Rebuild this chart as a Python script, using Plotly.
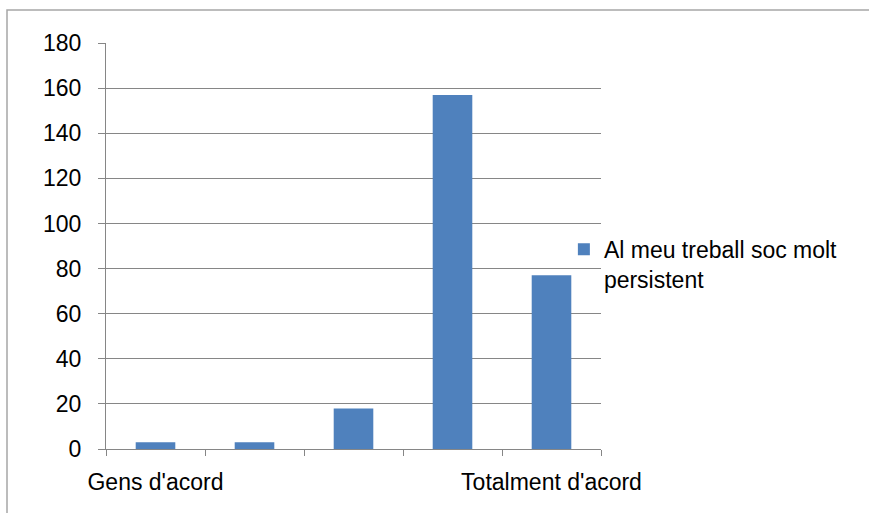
import plotly.graph_objects as go

categories = ["Gens d'acord", " ", "  ", "   ", "Totalment d'acord"]
values = [3, 3, 18, 157, 77]
series_name = "Al meu treball soc molt<br>persistent"
y_ticks = [0, 20, 40, 60, 80, 100, 120, 140, 160, 180]

FONT = "Liberation Sans, Arial, sans-serif"
BAR = "#4F81BD"
fig = go.Figure()
fig.add_trace(go.Bar(x=categories, y=values, name=series_name,
                     marker=dict(color=BAR, line=dict(width=0)),
                     showlegend=True))

fig.update_layout(
    width=869, height=513,
    margin=dict(l=106, r=268, t=43, b=64, autoexpand=False),
    paper_bgcolor="white", plot_bgcolor="white",
    bargap=0.6,
    font=dict(family=FONT, size=23, color="#000000"),
    showlegend=True,
    legend=dict(x=0.925, y=0.455, xanchor="left", yanchor="middle",
                bgcolor="rgba(0,0,0,0)", font=dict(size=23), valign="top",
                itemwidth=30, tracegroupgap=0),
    xaxis=dict(type="category", showline=True, linecolor="#868686", linewidth=1,
               ticks="outside", tickson="boundaries", ticklen=6, tickcolor="#868686",
               showgrid=False, tickfont=dict(size=23), tickangle=0, automargin=False,
               ticklabelstandoff=12),
    yaxis=dict(range=[0, 180], tickvals=y_ticks, showline=True, linecolor="#868686",
               linewidth=1, ticks="outside", ticklen=7, tickcolor="#868686",
               showgrid=True, gridcolor="#868686", gridwidth=1, zeroline=False,
               tickfont=dict(size=23), ticklabelstandoff=12, automargin=False),
    shapes=[dict(type="rect", xref="paper", yref="paper",
                 x0=(7 - 106) / 495, x1=(880 - 106) / 495,
                 y0=(449 - 530) / 406, y1=(449 - 10) / 406,
                 line=dict(color="#A6A6A6", width=1.5), fillcolor="rgba(0,0,0,0)",
                 layer="below")],
)

fig.write_html("out.html")
